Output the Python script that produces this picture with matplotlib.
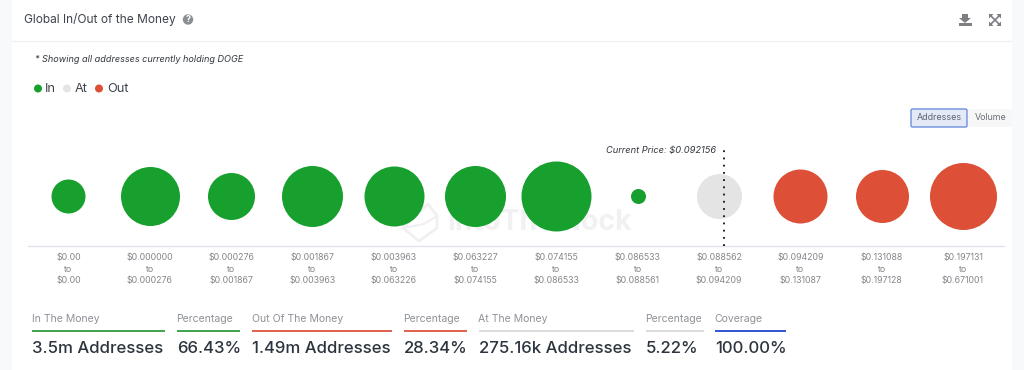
import matplotlib
matplotlib.use('Agg')
import matplotlib.pyplot as plt
from matplotlib.patches import Rectangle, FancyBboxPatch, Circle, Polygon

plt.rcParams['font.family'] = ['Inter', 'DejaVu Sans']

# Bubble widths
range_from = ['$0.00', '$0.000000', '$0.000276', '$0.001867', '$0.003963', '$0.063227',
              '$0.074155', '$0.086533', '$0.088562', '$0.094209', '$0.131088', '$0.197131']
range_to = ['$0.00', '$0.000276', '$0.001867', '$0.003963', '$0.063226', '$0.074155',
            '$0.086533', '$0.088561', '$0.094209', '$0.131087', '$0.197128', '$0.671001']
bubble_size = [34, 59, 47, 61, 60, 61, 70, 15, 45, 54, 53, 67]
bubble_state = ['In', 'In', 'In', 'In', 'In', 'In', 'In', 'In', 'At', 'Out', 'Out', 'Out']
current_price_pos = 8.06

state_names = ['In', 'At', 'Out']
state_colors = {'In': '#17a02e', 'At': '#e4e4e4', 'Out': '#dd4f36'}

summary_heads = ['In The Money', 'Percentage', 'Out Of The Money', 'Percentage',
                 'At The Money', 'Percentage', 'Coverage']
summary_values = ['3.5m Addresses', '66.43%', '1.49m Addresses', '28.34%',
                  '275.16k Addresses', '5.22%', '100.00%']
summary_colors = ['#3fa34d', '#3fa34d', '#e0604c', '#e0604c', '#dcdcdc', '#dcdcdc', '#2f55d4']
summary_left = [32, 177, 252, 404, 479, 646, 715]
summary_right = [165, 240, 392, 467, 634, 704, 786]

W, H = 1024, 370
fig = plt.figure(figsize=(W / 100, H / 100), dpi=100, facecolor='#f8f9fb')

# page layer, in pixels
page = fig.add_axes([0, 0, 1, 1])
page.set_xlim(0, W)
page.set_ylim(H, 0)
page.axis('off')
page.add_patch(Rectangle((12, 0), 1000, H, fc='white', ec='none'))
page.plot([12, 1012], [41, 41], color='#f0f1f3', lw=1)

# header
page.text(24.5, 20, 'Global In/Out of the Money', fontsize=8.6, color='#3d444d', va='center')
page.add_patch(Circle((188, 19.5), 5.2, fc='#8b8f94', ec='none'))
page.text(188, 19.8, '?', fontsize=6.5, color='white', ha='center', va='center', fontweight='bold')

# download icon
page.add_patch(Polygon([(962, 14), (968, 14), (968, 18), (971, 18), (965, 23), (959, 18), (962, 18)],
                       fc='#7d7f83', ec='none'))
page.add_patch(Rectangle((959, 23), 12.5, 3, fc='#7d7f83', ec='none'))
# expand icon
for x0, x1, y0, y1 in [(990, 1000, 15, 25), (990, 1000, 25, 15)]:
    page.plot([x0, x1], [y0, y1], color='#7d7f83', lw=1.2)
for px, py, dx, dy in [(990, 15, 1, 1), (1000, 15, -1, 1), (990, 25, 1, -1), (1000, 25, -1, -1)]:
    page.add_patch(Polygon([(px - dx, py - dy), (px + 3.5 * dx, py - dy), (px - dx, py + 3.5 * dy)],
                           fc='#7d7f83', ec='none'))

page.text(35, 59, '* Showing all addresses currently holding DOGE', fontsize=6.55, style='italic',
          color='#33383e', va='center')

# legend
leg_dot = [38, 67, 99]
leg_txt = [45, 75, 107]
for name, dx, tx in zip(state_names, leg_dot, leg_txt):
    page.add_patch(Circle((dx, 88.5), 4, fc=state_colors[name], ec='none'))
    page.text(tx, 88.5, name, fontsize=9.2, color='#3d444d', va='center')

# Addresses / Volume buttons
page.add_patch(FancyBboxPatch((911, 109), 56, 18, boxstyle='round,pad=0,rounding_size=1.5',
                              fc='#e3e9f6', ec='#6f8fdc', lw=1))
page.add_patch(FancyBboxPatch((968, 109), 44, 18, boxstyle='round,pad=0,rounding_size=1.5',
                              fc='#f7f7f8', ec='none'))
page.text(939, 118, 'Addresses', fontsize=6.4, color='#5d6575', ha='center', va='center')
page.text(991, 118, 'Volume', fontsize=6.4, color='#6b6f76', ha='center', va='center')

# watermark, logo and name
page.add_patch(Polygon([(403, 228), (428, 204), (437, 216), (437, 228), (419, 241)],
                       fc='none', ec='#f0f0f2', lw=2, zorder=2))
page.plot([403, 424, 437], [228, 224, 216], color='#f0f0f2', lw=1.5, zorder=2)
page.text(539, 222, 'IntoTheBlock', fontsize=20.5, color='#f1f1f3', ha='center', va='center',
          fontweight='bold', zorder=2)

# summary strip
for head, val, col, x0, x1 in zip(summary_heads, summary_values, summary_colors, summary_left, summary_right):
    page.text(x0 - 0.5, 318.5, head, fontsize=7.55, color='#8e9297', va='center')
    page.plot([x0, x1], [331, 331], color=col, lw=1.4, solid_capstyle='butt')
    page.text(x0, 348.5, val, fontsize=12.05, color='#2c343e', va='center', fontweight='medium')

# bubble chart
ax = fig.add_axes([27.7 / W, 1 - 246 / H, 976 / W, 100 / H])
ax.patch.set_alpha(0)
ax.set_xlim(-0.5, 11.5)
ax.set_ylim(0, 100)
positions = list(range(len(bubble_size)))
for i, d, st in zip(positions, bubble_size, bubble_state):
    ax.scatter(i, 50, s=(d * 0.72) ** 2, color=state_colors[st], linewidths=0, zorder=3, clip_on=False)
for s in ['top', 'left', 'right']:
    ax.spines[s].set_visible(False)
ax.spines['bottom'].set_color('#e2e3ee')
ax.spines['bottom'].set_linewidth(1)
ax.set_yticks([])
ax.set_xticks(positions)
ax.set_xticklabels([f'{a}\nto\n{b}' for a, b in zip(range_from, range_to)], fontsize=6.35,
                   color='#83878c', linespacing=1.38)
ax.tick_params(axis='x', length=0, pad=5)

# current price marker
ax.plot([current_price_pos, current_price_pos], [0, 100], color='#111111', lw=1.3,
        linestyle=(0, (1, 3)), zorder=4, clip_on=False)
page.text(716, 150.5, 'Current Price: $0.092156', fontsize=6.7, style='italic', color='#33383e',
          ha='right', va='center')

fig.savefig('out.png', dpi=100, facecolor=fig.get_facecolor())
